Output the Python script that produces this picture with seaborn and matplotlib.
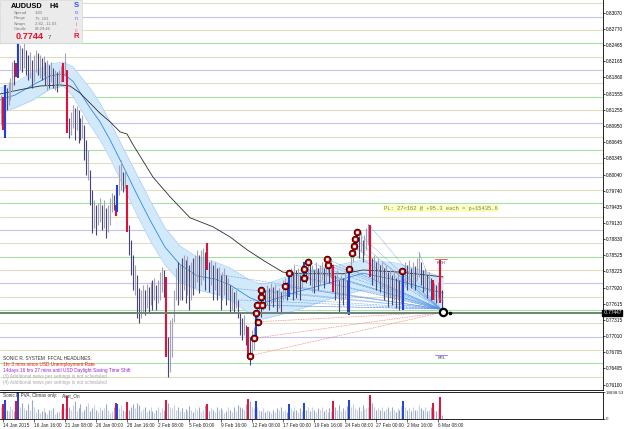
import numpy as np
import matplotlib
matplotlib.use("Agg")
import matplotlib.pyplot as plt
import matplotlib.transforms as mtransforms
from matplotlib.patches import Rectangle
import seaborn as sns

# ---------------- data ----------------
first_bar = -1   # bar index of first visible H4 bar (0 = 14 Jan 2015 00:00)

highs = [
    0.8153, 0.8149, 0.8172, 0.8166, 0.8178, 0.8185, 0.8215, 0.8219, 0.8213, 0.8251,
    0.8247, 0.8241, 0.8252, 0.8238, 0.8228, 0.8234, 0.8219, 0.8228, 0.8238, 0.8232,
    0.8228, 0.8223, 0.8226, 0.8215, 0.8219, 0.8210, 0.8215, 0.8204, 0.8200, 0.8196,
    0.8200, 0.8208, 0.8213, 0.8232, 0.8200, 0.8110, 0.8121, 0.8134, 0.8129, 0.8133,
    0.8125, 0.8110, 0.8116, 0.8097, 0.8069, 0.8050, 0.8013, 0.7975, 0.7956, 0.7947,
    0.7951, 0.7960, 0.7947, 0.7956, 0.7941, 0.7947, 0.7960, 0.7969, 0.7966, 0.7947,
    0.7985, 0.8022, 0.8031, 0.8009, 0.8013, 0.7985, 0.7910, 0.7881, 0.7853, 0.7835,
    0.7816, 0.7791, 0.7788, 0.7797, 0.7788, 0.7799, 0.7793, 0.7803, 0.7806, 0.7810,
    0.7797, 0.7806, 0.7821, 0.7831, 0.7825, 0.7812, 0.7699, 0.7731, 0.7735, 0.7788,
    0.7829, 0.7840, 0.7835, 0.7848, 0.7853, 0.7844, 0.7851, 0.7835, 0.7840, 0.7848,
    0.7853, 0.7863, 0.7853, 0.7863, 0.7866, 0.7859, 0.7876, 0.7840, 0.7844, 0.7835,
    0.7840, 0.7829, 0.7831, 0.7816, 0.7821, 0.7829, 0.7816, 0.7810, 0.7797, 0.7791,
    0.7784, 0.7788, 0.7769, 0.7744, 0.7735, 0.7741, 0.7722, 0.7718, 0.7699, 0.7713,
    0.7718, 0.7746, 0.7769, 0.7788, 0.7778, 0.7791, 0.7788, 0.7797, 0.7791, 0.7801,
    0.7793, 0.7797, 0.7788, 0.7791, 0.7784, 0.7806, 0.7810, 0.7803, 0.7821, 0.7829,
    0.7821, 0.7835, 0.7825, 0.7829, 0.7816, 0.7835, 0.7840, 0.7829, 0.7848, 0.7840,
    0.7835, 0.7825, 0.7840, 0.7829, 0.7835, 0.7840, 0.7829, 0.7844, 0.7849, 0.7840,
    0.7848, 0.7835, 0.7816, 0.7825, 0.7806, 0.7816, 0.7810, 0.7821, 0.7806, 0.7827,
    0.7859, 0.7876, 0.7885, 0.7896, 0.7889, 0.7896, 0.7881, 0.7891, 0.7904, 0.7911,
    0.7910, 0.7848, 0.7853, 0.7840, 0.7848, 0.7835, 0.7840, 0.7829, 0.7835, 0.7821,
    0.7825, 0.7816, 0.7825, 0.7810, 0.7821, 0.7806, 0.7816, 0.7823, 0.7840, 0.7835,
    0.7844, 0.7829, 0.7840, 0.7833, 0.7848, 0.7859, 0.7840, 0.7825, 0.7829, 0.7816,
    0.7821, 0.7810, 0.7806, 0.7801, 0.7797, 0.7803, 0.7844, 0.7788,
]
lows = [
    0.8097, 0.8088, 0.8073, 0.8125, 0.8134, 0.8144, 0.8159, 0.8172, 0.8187, 0.8185,
    0.8200, 0.8196, 0.8204, 0.8191, 0.8181, 0.8185, 0.8166, 0.8178, 0.8196, 0.8191,
    0.8185, 0.8181, 0.8189, 0.8172, 0.8163, 0.8166, 0.8178, 0.8166, 0.8163, 0.8159,
    0.8172, 0.8178, 0.8178, 0.8191, 0.8082, 0.8073, 0.8078, 0.8091, 0.8069, 0.8088,
    0.8063, 0.8069, 0.8073, 0.8031, 0.8003, 0.7994, 0.7947, 0.7894, 0.7904, 0.7891,
    0.7910, 0.7915, 0.7900, 0.7904, 0.7885, 0.7896, 0.7910, 0.7934, 0.7938, 0.7926,
    0.7934, 0.7966, 0.7975, 0.7971, 0.7979, 0.7896, 0.7853, 0.7816, 0.7788, 0.7778,
    0.7735, 0.7726, 0.7735, 0.7746, 0.7741, 0.7753, 0.7744, 0.7759, 0.7750, 0.7769,
    0.7750, 0.7763, 0.7769, 0.7784, 0.7774, 0.7662, 0.7624, 0.7634, 0.7662, 0.7728,
    0.7769, 0.7759, 0.7769, 0.7769, 0.7788, 0.7763, 0.7778, 0.7750, 0.7769, 0.7778,
    0.7791, 0.7803, 0.7782, 0.7797, 0.7806, 0.7788, 0.7825, 0.7784, 0.7797, 0.7769,
    0.7788, 0.7769, 0.7778, 0.7750, 0.7769, 0.7778, 0.7759, 0.7769, 0.7744, 0.7750,
    0.7744, 0.7753, 0.7735, 0.7703, 0.7694, 0.7703, 0.7684, 0.7666, 0.7647, 0.7660,
    0.7675, 0.7694, 0.7731, 0.7741, 0.7737, 0.7750, 0.7753, 0.7759, 0.7750, 0.7763,
    0.7756, 0.7765, 0.7744, 0.7753, 0.7744, 0.7769, 0.7773, 0.7769, 0.7774, 0.7788,
    0.7769, 0.7784, 0.7773, 0.7788, 0.7769, 0.7791, 0.7806, 0.7801, 0.7810, 0.7797,
    0.7784, 0.7782, 0.7797, 0.7788, 0.7797, 0.7806, 0.7791, 0.7803, 0.7816, 0.7801,
    0.7810, 0.7784, 0.7769, 0.7778, 0.7746, 0.7769, 0.7759, 0.7773, 0.7744, 0.7741,
    0.7821, 0.7840, 0.7853, 0.7863, 0.7848, 0.7859, 0.7840, 0.7853, 0.7863, 0.7872,
    0.7812, 0.7797, 0.7806, 0.7788, 0.7803, 0.7784, 0.7791, 0.7769, 0.7778, 0.7756,
    0.7773, 0.7759, 0.7769, 0.7753, 0.7769, 0.7750, 0.7763, 0.7750, 0.7797, 0.7788,
    0.7803, 0.7791, 0.7797, 0.7788, 0.7806, 0.7812, 0.7797, 0.7784, 0.7788, 0.7773,
    0.7784, 0.7769, 0.7769, 0.7769, 0.7763, 0.7773, 0.7763, 0.7745,
]
# u = bull bar, d = bear bar, R = red climax, B = blue climax
bar_kinds = ("uRBduuudRB ududduduud ududududud uuRuRduudu ddudduddud "
             "uududuuudR BuuduRdddu dduudududu duuudRduuu ududududud "
             "uuduudRdud ududuududu dudddudRdu uBuudududu dududuudBu "
             "dududuBdud ududuuduud uRdudududB uuuududuuu Rdudududud "
             "udududuBud ududuuddud udRuduRd")
volumes = [
    9000, 11000, 14000, 7000, 6000, 9500, 7500, 6000, 13000, 19898,
    9000, 12000, 8000, 6500, 11000, 7000, 14000, 9000, 5000, 7500,
    4500, 6000, 8000, 5500, 3500, 7000, 6500, 8000, 4000, 5000,
    6000, 7500, 11000, 8000, 17000, 9000, 7000, 10000, 13000, 6000,
    8000, 11000, 5000, 7000, 9500, 12000, 6000, 8000, 10000, 7000,
    5000, 9000, 6500, 8000, 11000, 7000, 4500, 6000, 9000, 12000,
    11000, 8000, 10000, 7000, 6000, 12500, 7000, 9000, 11000, 8000,
    12000, 10000, 6000, 7500, 9000, 5000, 7000, 8500, 6000, 4500,
    7000, 9000, 5500, 8000, 6500, 14000, 12000, 9000, 8000, 10000,
    7000, 9000, 6000, 8000, 5000, 7500, 6000, 9500, 7000, 5500,
    8000, 6500, 9000, 5000, 7000, 10000, 11000, 6000, 8000, 7000,
    5000, 9000, 6500, 8000, 7000, 4500, 6000, 8500, 7000, 5500,
    9000, 6000, 10000, 9000, 8000, 7000, 11000, 15000, 13000, 9000,
    8000, 13000, 9000, 7000, 6000, 8000, 5500, 7000, 6000, 4500,
    7000, 5000, 8000, 6500, 9000, 6000, 7000, 5000, 11000, 8000,
    6000, 9000, 7000, 5500, 8000, 6000, 12000, 7000, 8500, 6000,
    9000, 7000, 5000, 8000, 6500, 9000, 6000, 7500, 5500, 8000,
    6000, 13000, 9000, 7000, 10000, 6000, 8000, 7000, 9500, 14000,
    9000, 11000, 8000, 7000, 9000, 6000, 10000, 7500, 8000, 9000,
    18000, 12000, 9000, 7000, 8000, 6500, 9000, 6000, 7500, 8500,
    6000, 9000, 7000, 5500, 8000, 6500, 9500, 13000, 9000, 7000,
    8000, 6000, 9000, 7000, 6500, 10000, 8000, 7000, 9000, 6000,
    7000, 8500, 12000, 7000, 6000, 8000, 16000, 3000,
]
vol_max = 19898.53

# slow moving average (black line), knots
ma_idx = [-1.4, 8.9, 19.2, 29.5, 34.6, 39.7, 44.9, 50.0, 55.2, 60.3, 63.9, 67.0,
          77.3, 86.1, 96.3, 108.1, 116.9, 125.6, 134.9, 144.1, 152.9, 175.0,
          185.2, 204.3, 226.4]
ma_val = [0.8155, 0.8163, 0.8170, 0.8172, 0.8170, 0.8157, 0.8138, 0.8119, 0.8103,
          0.8084, 0.8080, 0.8060, 0.7999, 0.7962, 0.7923, 0.7906, 0.7887, 0.7863,
          0.7841, 0.7821, 0.7818, 0.7818, 0.7825, 0.7821, 0.7812]

# Sonic R dragon band
band_idx = [-1.4, 6.3, 15.6, 24.3, 31.0, 36.1, 44.9, 50.0, 55.2, 61.9, 69.1, 75.7,
            83.4, 91.2, 99.9, 109.2, 116.9, 127.1, 133.8, 142.6, 151.3, 168.3,
            185.2, 202.7, 219.7, 226.4]
band_hi = [0.8166, 0.8176, 0.8196, 0.8211, 0.8215, 0.8206, 0.8166, 0.8138, 0.8103,
           0.8054, 0.8003, 0.7956, 0.7904, 0.7870, 0.7849, 0.7840, 0.7829, 0.7806,
           0.7797, 0.7808, 0.7819, 0.7831, 0.7844, 0.7838, 0.7819, 0.7812]
band_mid = [0.8144, 0.8153, 0.8172, 0.8189, 0.8193, 0.8179, 0.8129, 0.8103, 0.8069,
            0.8020, 0.7966, 0.7919, 0.7868, 0.7835, 0.7814, 0.7808, 0.7797, 0.7773,
            0.7763, 0.7774, 0.7784, 0.7801, 0.7819, 0.7806, 0.7788, 0.7782]
band_lo = [0.8119, 0.8129, 0.8144, 0.8164, 0.8170, 0.8151, 0.8097, 0.8069, 0.8035,
           0.7983, 0.7928, 0.7881, 0.7835, 0.7803, 0.7788, 0.7780, 0.7769, 0.7743,
           0.7733, 0.7741, 0.7750, 0.7771, 0.7788, 0.7774, 0.7756, 0.7750]

# signal circles
circ_idx = [127, 129, 131.3, 130.2, 130.8, 133.3, 132.8, 133.0, 145, 147, 155, 155,
            157, 166.5, 167.5, 178, 179.6, 180.6, 181.3, 182.2, 205.3]
circ_val = [0.7664, 0.7697, 0.7728, 0.7744, 0.7759, 0.7759, 0.7774, 0.7788, 0.7795,
            0.7819, 0.7827, 0.7810, 0.7840, 0.7846, 0.7834, 0.7827, 0.7857, 0.7870,
            0.7883, 0.7896, 0.7823]

# fan trend lines
fan_end_idx, fan_end_val = 225, 0.7752
blue_start_idx = [133.0, 132.8, 133.3, 130.8, 145, 147, 155, 155, 157, 166.5, 167.5,
                  178, 179.6, 180.6, 181.3, 182.2, 205.3, 118, 121, 112, 140, 150,
                  160, 170, 188, 195, 214]
blue_start_val = [0.7788, 0.7774, 0.7759, 0.7759, 0.7795, 0.7819, 0.7827, 0.7810,
                  0.7840, 0.7846, 0.7834, 0.7827, 0.7857, 0.7870, 0.7883, 0.7896,
                  0.7823, 0.7791, 0.7769, 0.7816, 0.7797, 0.7835, 0.7825, 0.7835,
                  0.7911, 0.7840, 0.7859]
red_start_idx = [127, 129, 131.3, 130.2]
red_start_val = [0.7664, 0.7697, 0.7728, 0.7744]
red_end_idx, red_end_val = 226.4, 0.7746

current_price = 0.77447

ytick_vals = [0.83070, 0.82770, 0.82465, 0.82165, 0.81860, 0.81555, 0.81255, 0.80950,
              0.80645, 0.80345, 0.80040, 0.79740, 0.79435, 0.79130, 0.78830, 0.78525,
              0.78225, 0.77920, 0.77615, 0.77315, 0.77010, 0.76705, 0.76405, 0.76100]
xtick_pos = [0, 16, 32, 48, 64, 80, 96, 112, 128, 144, 160, 176, 192, 208, 224]
xtick_labels = ["14 Jan 2015", "16 Jan 16:00", "21 Jan 08:00", "26 Jan 00:00",
                "28 Jan 16:00", "2 Feb 08:00", "5 Feb 00:00", "9 Feb 16:00",
                "12 Feb 08:00", "17 Feb 00:00", "19 Feb 16:00", "24 Feb 08:00",
                "27 Feb 00:00", "2 Mar 16:00", "6 Mar 08:00"]

# ---------------- style ----------------
sns.set_theme(style="white")
plt.rcParams["font.family"] = ["Liberation Sans", "DejaVu Sans"]

W, H = 625, 429
fig = plt.figure(figsize=(W / 100, H / 100), dpi=100)
fig.patch.set_facecolor("white")


def P(x, y):
    return x / W, 1 - y / H


ax = fig.add_axes([0, 1 - 390 / H, 603 / W, 390 / H])
axv = fig.add_axes([0, 1 - 419 / H, 603 / W, 27 / H])
XL = (-1.388, 308.64)

kinds = bar_kinds.replace(" ", "")
n = len(highs)
xs = np.arange(first_bar, first_bar + n)

# level lines every 0.0025
for lv in np.arange(0.7600, 0.83251, 0.0025):
    k = int(round(lv * 10000)) % 100
    col = "#c4c4f2" if k == 0 else ("#a4e2a4" if k == 50 else "#e4dcc0")
    ax.axhline(lv, color=col, lw=0.8, zorder=1)

# dragon band
ax.fill_between(band_idx, band_lo, band_hi, color="#d2e8fb", lw=0, zorder=2)
ax.plot(band_idx, band_hi, color="#a9d0f3", lw=0.5, zorder=2)
ax.plot(band_idx, band_lo, color="#a9d0f3", lw=0.5, zorder=2)
sns.lineplot(x=band_idx, y=band_mid, ax=ax, color="#2f8ae6", linewidth=0.6, zorder=3)

# fan lines
for si, sv in zip(blue_start_idx, blue_start_val):
    ax.plot([si, fan_end_idx], [sv, fan_end_val], color="#4d8fe3", lw=0.45,
            ls=(0, (1.2, 1.2)), zorder=3)
for si, sv in zip(red_start_idx, red_start_val):
    ax.plot([si, red_end_idx], [sv, red_end_val], color="#f07070", lw=0.5,
            ls=(0, (1.2, 1.2)), zorder=3)

# slow MA
sns.lineplot(x=ma_idx, y=ma_val, ax=ax, color="#2b2b2b", linewidth=0.6, zorder=4)

# bars
col_map = {"u": "#a2a2b4", "d": "#45457a", "R": "#e0103a", "B": "#1f3fe0"}
norm = [i for i, k in enumerate(kinds) if k in "ud"]
clim = [i for i, k in enumerate(kinds) if k in "RB"]
ax.vlines(xs[norm], np.array(lows)[norm], np.array(highs)[norm],
          colors=[col_map[kinds[i]] for i in norm], lw=0.8, zorder=5)
ax.vlines(xs[clim], np.array(lows)[clim], np.array(highs)[clim],
          colors=[col_map[kinds[i]] for i in clim], lw=1.5, zorder=5)

# current price line
ax.axhline(current_price, color="#6e8276", lw=1.4, zorder=5.5)

# circles
ax.plot(circ_idx, circ_val, "o", ms=4.4, mfc="black", mec="black", zorder=6)
ax.plot(circ_idx, circ_val, "o", ms=3.3, mfc="white", mec="#e00000", mew=1.0, zorder=7)
ax.plot([226.4], [0.7746], "o", ms=5.2, mfc="white", mec="black", mew=1.6, zorder=7)
ax.plot([230], [0.7745], "o", ms=1.6, mfc="black", mec="black", zorder=7)

# KRH / KRL
ax.plot([222.5, 228.5], [0.7845, 0.7845], color="#ff5a5a", lw=0.7, zorder=6)
ax.text(225.5, 0.7839, "KRH", fontsize=3, color="#3a3a6a", ha="center", va="center", zorder=7)
ax.plot([222.5, 228.5], [0.7666, 0.7666], color="#8a8aff", lw=0.7, zorder=6)
ax.text(225.5, 0.7660, "KRL", fontsize=3, color="#3a3a6a", ha="center", va="center", zorder=7)
ax.text(225.5, 0.7769, "KRL", fontsize=2.6, color="#8888aa", ha="center", va="center", zorder=7)

ax.set_xlim(*XL)
ax.set_ylim(0.7600, 0.833125)
ax.set_xlabel("")
ax.set_ylabel("")
ax.set_xticks([])
ax.yaxis.tick_right()
ax.set_yticks(ytick_vals)
ax.set_yticklabels(["%.5f" % v for v in ytick_vals])
ax.tick_params(axis="y", which="both", right=True, length=1.6, width=0.5, pad=0.6,
               labelsize=3.4, colors="black", direction="out")
for s in ["left", "top"]:
    ax.spines[s].set_visible(False)
for s in ["right", "bottom"]:
    ax.spines[s].set_color("black")
    ax.spines[s].set_linewidth(0.6)
ax.set_facecolor("white")

tr = mtransforms.blended_transform_factory(ax.transAxes, ax.transData)
ax.text(1.0, current_price, " 0.77447", transform=tr, ha="left", va="center",
        fontsize=3.4, color="white", clip_on=False, zorder=20,
        bbox=dict(boxstyle="square,pad=0.12", fc="black", ec="black"))

# volume panel
vcol = {"u": "#c8cfdd", "d": "#9aa8c6", "R": "#e0103a", "B": "#1f3fe0"}
axv.vlines(xs[norm], 0, np.array(volumes)[norm],
           colors=[vcol[kinds[i]] for i in norm], lw=0.8)
axv.vlines(xs[clim], 0, np.array(volumes)[clim],
           colors=[vcol[kinds[i]] for i in clim], lw=1.4)
axv.set_xlim(*XL)
axv.set_ylim(0, vol_max)
axv.yaxis.tick_right()
axv.set_yticks([0, vol_max])
axv.set_yticklabels(["0", "19898.53"])
axv.set_xticks(xtick_pos)
axv.set_xticklabels(xtick_labels)
plt.setp(axv.get_xticklabels(), ha="left")
axv.tick_params(axis="x", bottom=True, length=2, width=0.5, pad=0.8, labelsize=3.4,
                direction="out")
axv.tick_params(axis="y", right=True, length=1.6, width=0.5, pad=0.6, labelsize=3.2,
                direction="out")
for s in ["left"]:
    axv.spines[s].set_visible(False)
for s in ["right", "bottom", "top"]:
    axv.spines[s].set_color("black")
    axv.spines[s].set_linewidth(0.6)
axv.set_facecolor("white")

# ---------------- text overlays ----------------
fig.add_artist(Rectangle((0, 1 - 43 / H), 82 / W, 43 / H, transform=fig.transFigure,
                         facecolor="#ebebeb", edgecolor="#d6d6d6", lw=0.5, zorder=10))
fig.text(*P(11, 6.5), "AUDUSD", fontsize=5.3, weight="bold", color="black", va="center", zorder=11)
fig.text(*P(49, 6.5), "H4", fontsize=5.3, weight="bold", color="black", va="center", zorder=11)
for yy, lab, val in zip([13, 18.5, 24, 29.5], ["Spread", "Range", "Swaps", "Candle"],
                        ["1.80", "75, 101", "2.82, -11.03", "03:29:46"]):
    fig.text(*P(14, yy), lab, fontsize=3, color="#7a7a7a", va="center", zorder=11)
    fig.text(*P(35, yy), val, fontsize=3, color="#7a7a7a", va="center", zorder=11)
fig.text(*P(16, 36.5), "0.7744", fontsize=6.6, weight="bold", color="#e8102a", va="center", zorder=11)
fig.text(*P(48, 37.5), "7", fontsize=4.4, color="#555555", va="center", zorder=11)
for yy, ch, c, fs, w in [(5.5, "S", "#2f4fff", 5.6, "bold"), (13, "o", "#4a5cff", 4, "normal"),
                         (18.5, "n", "#6a6aff", 4, "normal"), (24.5, "i", "#ff5a86", 4, "normal"),
                         (30, "c", "#ff5a86", 4, "normal"), (37, "R", "#ee1030", 5.6, "bold")]:
    fig.text(*P(76, yy), ch, fontsize=fs, weight=w, color=c, ha="center", va="center", zorder=11)

fig.text(*P(384, 208.5), "PL: 27<162 @ +95.3 each = p+15435.6", family="Liberation Mono",
         fontsize=4, color="#6a8a3a", va="center", zorder=11,
         bbox=dict(boxstyle="square,pad=0.25", fc="#ffffc4", ec="none"))

news = [("SONIC R. SYSTEM  FFCAL HEADLINES:", "#303030"),
        ("1hr 3 mins since USD Unemployment Rate", "#ff1010"),
        ("14days 16 hrs 27 mins until USD Daylight Saving Time Shift", "#a020e0"),
        ("(3) Additional news per settings is not scheduled", "#a8a8a8"),
        ("(4) Additional news per settings is not scheduled", "#a8a8a8")]
for k, (t, c) in enumerate(news):
    fig.text(*P(3, 358 + k * 6.2), t, fontsize=3.4, color=c, va="center", zorder=11)
fig.text(*P(3, 396), "Sonic R PVA, Climax only:", fontsize=3.3, color="#303030", va="center", zorder=11)
fig.text(*P(62, 396), "Alert_On", fontsize=3.3, color="#303030", va="center", zorder=11)

fig.savefig("out.png", dpi=100)
